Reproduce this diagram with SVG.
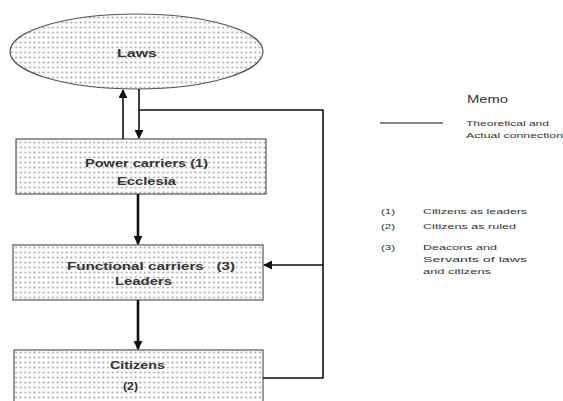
<svg xmlns="http://www.w3.org/2000/svg" width="563" height="401" viewBox="0 0 563 401">
  <defs>
    <pattern id="dots" width="4.6" height="5" patternUnits="userSpaceOnUse">
      <rect width="4.6" height="5" fill="#fdfdfd"/>
      <circle cx="2.3" cy="2.5" r="1" fill="#a4a4a4"/>
    </pattern>
    <marker id="arrow" viewBox="0 0 10 10" refX="9" refY="5" markerWidth="9" markerHeight="9" markerUnits="userSpaceOnUse" orient="auto">
      <path d="M0,0 L10,5 L0,10 z" fill="#111"/>
    </marker>
  </defs>
  <style>
    .node { fill: url(#dots); stroke: #555; stroke-width: 1.2; }
    .label { font-family: "Liberation Sans", Arial, sans-serif; font-weight: bold; font-size: 11px; fill: #333; }
    .conn { fill: none; stroke: #111; stroke-width: 1.6; }
    .thick { stroke-width: 2.6; }
    .legend { font-family: "Liberation Sans", Arial, sans-serif; font-size: 8px; fill: #333; }
  </style>
  <rect width="563" height="401" fill="#fff"/>

  <g id="laws">
    <ellipse class="node" cx="136.5" cy="51.5" rx="126.5" ry="37.5"/>
    <text class="label" x="117" y="57" textLength="40" lengthAdjust="spacingAndGlyphs">Laws</text>
  </g>

  <g id="power-carriers">
    <rect class="node" x="16" y="139" width="250" height="55"/>
    <text class="label" x="85" y="167" textLength="123" lengthAdjust="spacingAndGlyphs">Power carriers (1)</text>
    <text class="label" x="117" y="185" textLength="59" lengthAdjust="spacingAndGlyphs">Ecclesia</text>
  </g>

  <g id="functional-carriers">
    <rect class="node" x="13" y="245" width="250" height="55"/>
    <text class="label" x="67" y="270" textLength="168" lengthAdjust="spacingAndGlyphs" xml:space="preserve">Functional carriers   (3)</text>
    <text class="label" x="115" y="285" textLength="57" lengthAdjust="spacingAndGlyphs">Leaders</text>
  </g>

  <g id="citizens">
    <rect class="node" x="14" y="350" width="249" height="60"/>
    <text class="label" x="110" y="369" textLength="55" lengthAdjust="spacingAndGlyphs">Citizens</text>
    <text class="label" x="123" y="390" textLength="15" lengthAdjust="spacingAndGlyphs">(2)</text>
  </g>

  <g id="connectors">
    <line class="conn" x1="123" y1="139" x2="123" y2="90" marker-end="url(#arrow)"/>
    <line class="conn" x1="139" y1="89" x2="139" y2="138" marker-end="url(#arrow)"/>
    <polyline class="conn" points="139,110 323,110 323,378 263,378"/>
    <line class="conn" x1="323" y1="265" x2="264" y2="265" marker-end="url(#arrow)"/>
    <line class="conn thick" x1="138" y1="194" x2="138" y2="244" marker-end="url(#arrow)"/>
    <line class="conn thick" x1="138" y1="300" x2="138" y2="349" marker-end="url(#arrow)"/>
  </g>

  <g id="memo">
    <text class="legend" x="467" y="103" style="font-size:10px" textLength="41" lengthAdjust="spacingAndGlyphs">Memo</text>
    <line class="conn" x1="380" y1="123" x2="443" y2="123" style="stroke-width:1.2"/>
    <text class="legend" x="466" y="126" textLength="83" lengthAdjust="spacingAndGlyphs">Theoretical and</text>
    <text class="legend" x="466" y="138" textLength="97" lengthAdjust="spacingAndGlyphs">Actual connection</text>
    <text class="legend" x="381" y="214" textLength="14" lengthAdjust="spacingAndGlyphs">(1)</text>
    <text class="legend" x="423" y="214" textLength="104" lengthAdjust="spacingAndGlyphs">Citizens as leaders</text>
    <text class="legend" x="381" y="229" textLength="14" lengthAdjust="spacingAndGlyphs">(2)</text>
    <text class="legend" x="423" y="229" textLength="93" lengthAdjust="spacingAndGlyphs">Citizens as ruled</text>
    <text class="legend" x="381" y="250" textLength="14" lengthAdjust="spacingAndGlyphs">(3)</text>
    <text class="legend" x="423" y="250" textLength="74" lengthAdjust="spacingAndGlyphs">Deacons and</text>
    <text class="legend" x="423" y="262" textLength="104" lengthAdjust="spacingAndGlyphs">Servants of laws</text>
    <text class="legend" x="423" y="274" textLength="68" lengthAdjust="spacingAndGlyphs">and citizens</text>
  </g>
</svg>
